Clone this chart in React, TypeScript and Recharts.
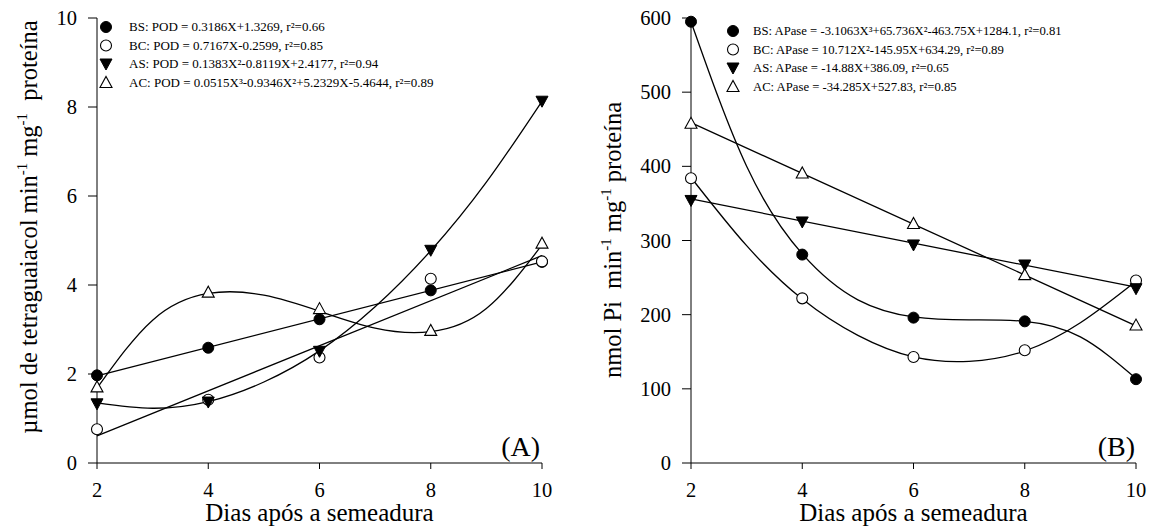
import React from "react";
import { ComposedChart, Line, Scatter, XAxis, YAxis } from "recharts";

const FONT = "Liberation Serif";

const days = [2, 4, 6, 8, 10];
const fitDays = [2, 3, 4, 5, 6, 7, 8, 9, 10];
const lineEnds = [2, 10];
const dayTicks = [2, 4, 6, 8, 10];

// (A) POD — observed means
const podBS = [1.97, 2.59, 3.23, 3.88, 4.52];
const podBC = [0.76, 1.42, 2.37, 4.14, 4.53];
const podAS = [1.33, 1.37, 2.51, 4.78, 8.13];
const podAC = [1.71, 3.84, 3.47, 2.98, 4.94];
// (A) fitted curves
const podFitBS = [1.96, 4.52];
const podFitBC = [0.61, 4.66];
const podFitAS = [1.35, 1.23, 1.38, 1.82, 2.52, 3.51, 4.77, 6.31, 8.13];
const podFitAC = [1.68, 3.21, 3.81, 3.77, 3.41, 3.03, 2.95, 3.47, 4.9];
const podTicks = [0, 2, 4, 6, 8, 10];
const podEq = [
  "BS: POD = 0.3186X+1.3269, r²=0.66",
  "BC: POD = 0.7167X-0.2599, r²=0.85",
  "AS: POD = 0.1383X²-0.8119X+2.4177, r²=0.94",
  "AC: POD = 0.0515X³-0.9346X²+5.2329X-5.4644, r²=0.89",
];

// (B) APase — observed means
const apBS = [595, 281, 196, 191, 113];
const apBC = [384, 222, 143, 152, 246];
const apAS = [354, 325, 294, 267, 235];
const apAC = [458, 391, 323, 254, 186];
// (B) fitted curves
const apFitBS = [595, 400, 282, 220, 197, 193, 191, 170, 114];
const apFitBC = [385, 293, 221, 172, 143, 137, 151, 189, 245];
const apFitAS = [356, 237];
const apFitAC = [459, 185];
const apTicks = [0, 100, 200, 300, 400, 500, 600];
const apEq = [
  "BS: APase = -3.1063X³+65.736X²-463.75X+1284.1, r²=0.81",
  "BC: APase = 10.712X²-145.95X+634.29, r²=0.89",
  "AS: APase = -14.88X+386.09, r²=0.65",
  "AC: APase = -34.285X+527.83, r²=0.85",
];

const xTitle = "Dias após a semeadura";
type Part = [string, boolean];
const podTitle: Part[] = [
  ["µmol de tetraguaiacol min", false],
  ["-1", true],
  [" mg", false],
  ["-1", true],
  ["\u00a0 proteína", false],
];
const apTitle: Part[] = [
  ["nmol Pi\u00a0 min", false],
  ["-1", true],
  [" mg", false],
  ["-1", true],
  [" proteína", false],
];

type Kind = "BS" | "BC" | "AS" | "AC";
const kinds: Kind[] = ["BS", "BC", "AS", "AC"];

const pts = (xs: number[], ys: number[]) => xs.map((x, i) => ({ x, y: ys[i] }));

function Mark({ cx, cy, kind }: { cx: number; cy: number; kind: Kind }) {
  if (kind === "BS") return <circle cx={cx} cy={cy} r={5.5} fill="#000" stroke="#000" />;
  if (kind === "BC") return <circle cx={cx} cy={cy} r={5.5} fill="#fff" stroke="#000" strokeWidth={1.1} />;
  if (kind === "AS")
    return <path d={`M${cx - 6},${cy - 5} L${cx + 6},${cy - 5} L${cx},${cy + 6} Z`} fill="#000" stroke="#000" />;
  return (
    <path d={`M${cx - 6},${cy + 5} L${cx + 6},${cy + 5} L${cx},${cy - 6} Z`} fill="#fff" stroke="#000" strokeWidth={1.1} />
  );
}

// tick labels drawn by hand so the serif face sticks
function XTick(p: any) {
  return (
    <text x={p.x} y={p.y + 28} textAnchor="middle" style={{ fontFamily: FONT, fontSize: 20.5 }} fill="#000">
      {p.payload.value}
    </text>
  );
}

function YTick(p: any) {
  return (
    <text x={p.x - 11} y={p.y + 7} textAnchor="end" style={{ fontFamily: FONT, fontSize: 20.5 }} fill="#000">
      {p.payload.value}
    </text>
  );
}

function TitleText({ x, y, parts }: { x: number; y: number; parts: Part[] }) {
  let up = false;
  return (
    <text x={x} y={y} transform={`rotate(-90 ${x} ${y})`} textAnchor="middle" fontFamily={FONT} fontSize={24.5} fill="#000">
      {parts.map(([t, sup], i) => {
        const dy = sup && !up ? -10 : !sup && up ? 10 : 0;
        up = sup;
        return (
          <tspan key={i} dy={dy} fontSize={sup ? 15 : 24.5}>
            {t}
          </tspan>
        );
      })}
    </text>
  );
}

type Fit = { xs: number[]; ys: number[]; curve: "natural" | "linear" };

function Panel(props: {
  width: number;
  axisW: number;
  right: number;
  domain: [number, number];
  ticks: number[];
  obs: number[][];
  fits: Fit[];
}) {
  const { width, axisW, right, domain, ticks, obs, fits } = props;
  return (
    <ComposedChart width={width} height={528} margin={{ top: 18, right, bottom: 0, left: 0 }}>
      <XAxis
        type="number"
        dataKey="x"
        domain={[2, 10]}
        ticks={dayTicks}
        height={65}
        tickSize={6}
        tickMargin={0}
        tick={<XTick />}
        stroke="#000"
        axisLine={{ stroke: "#000" }}
        tickLine={{ stroke: "#000" }}
      />
      <YAxis
        type="number"
        dataKey="y"
        domain={domain}
        ticks={ticks}
        width={axisW}
        tickSize={9}
        tickMargin={0}
        tick={<YTick />}
        stroke="#000"
        axisLine={{ stroke: "#000" }}
        tickLine={{ stroke: "#000" }}
      />
      {fits.map((f, i) => (
        <Line
          key={"f" + i}
          data={pts(f.xs, f.ys)}
          dataKey="y"
          type={f.curve}
          stroke="#000"
          strokeWidth={1.3}
          dot={false}
          activeDot={false}
          isAnimationActive={false}
        />
      ))}
      {kinds.map((k, i) => (
        <Scatter
          key={k}
          data={pts(days, obs[i])}
          dataKey="y"
          shape={(p: any) => <Mark cx={p.cx} cy={p.cy} kind={k} />}
          isAnimationActive={false}
        />
      ))}
    </ComposedChart>
  );
}

function LegendBlock(props: { x: number; tx: number; y: number; step: number; size: number; labels: string[] }) {
  const { x, tx, y, step, size, labels } = props;
  return (
    <g>
      {labels.map((s, i) => (
        <g key={i}>
          <Mark cx={x} cy={y + i * step} kind={kinds[i]} />
          <text x={tx} y={y + i * step + size * 0.34} fontFamily={FONT} fontSize={size} fill="#000">
            {s}
          </text>
        </g>
      ))}
    </g>
  );
}

export default function App() {
  return (
    <div style={{ position: "absolute", left: 0, top: 0, width: 1153, height: 528, background: "#fff" }}>
      <div style={{ position: "absolute", left: 0, top: 0 }}>
        <Panel
          width={576}
          axisW={97}
          right={34}
          domain={[0, 10]}
          ticks={podTicks}
          obs={[podBS, podBC, podAS, podAC]}
          fits={[
            { xs: lineEnds, ys: podFitBS, curve: "linear" },
            { xs: lineEnds, ys: podFitBC, curve: "linear" },
            { xs: fitDays, ys: podFitAS, curve: "natural" },
            { xs: fitDays, ys: podFitAC, curve: "natural" },
          ]}
        />
      </div>
      <div style={{ position: "absolute", left: 576, top: 0 }}>
        <Panel
          width={577}
          axisW={115}
          right={17}
          domain={[0, 600]}
          ticks={apTicks}
          obs={[apBS, apBC, apAS, apAC]}
          fits={[
            { xs: fitDays, ys: apFitBS, curve: "natural" },
            { xs: fitDays, ys: apFitBC, curve: "natural" },
            { xs: lineEnds, ys: apFitAS, curve: "linear" },
            { xs: lineEnds, ys: apFitAC, curve: "linear" },
          ]}
        />
      </div>
      <svg width={1153} height={528} style={{ position: "absolute", left: 0, top: 0, pointerEvents: "none" }}>
        <TitleText x={37} y={227} parts={podTitle} />
        <TitleText x={621} y={240} parts={apTitle} />
        <text x={319.5} y={521} textAnchor="middle" fontFamily={FONT} fontSize={25} fill="#000">
          {xTitle}
        </text>
        <text x={913.5} y={521} textAnchor="middle" fontFamily={FONT} fontSize={25} fill="#000">
          {xTitle}
        </text>
        <LegendBlock x={106} tx={129} y={27} step={18.5} size={13} labels={podEq} />
        <LegendBlock x={733} tx={753} y={31} step={18.5} size={12.7} labels={apEq} />
        <text x={540} y={456} textAnchor="end" fontFamily={FONT} fontSize={28} fill="#000">
          (A)
        </text>
        <text x={1135} y={456} textAnchor="end" fontFamily={FONT} fontSize={28} fill="#000">
          (B)
        </text>
      </svg>
    </div>
  );
}
